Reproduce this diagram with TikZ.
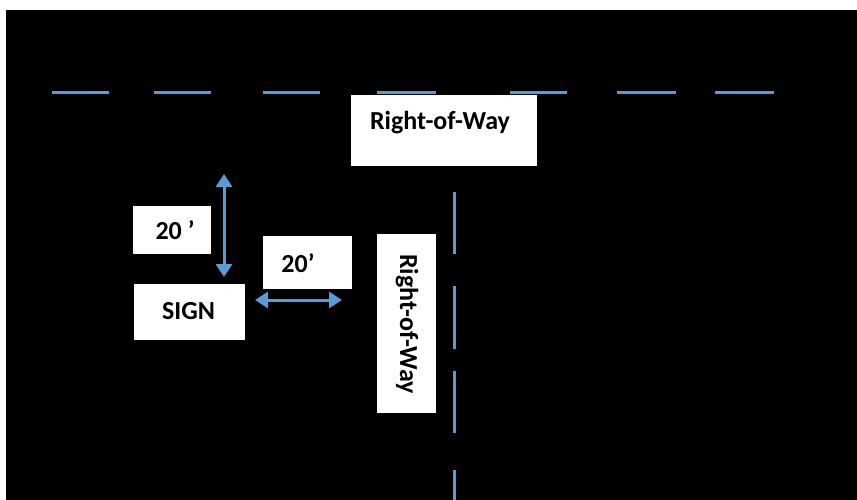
\documentclass[tikz,border=0pt]{standalone}
\usepackage{fontspec}
\setmainfont{Carlito}
\usetikzlibrary{arrows.meta}
\definecolor{rowblue}{HTML}{5B9BD5}
\begin{document}
\begin{tikzpicture}[x=1pt,y=-1pt,
  box/.style={fill=white,draw=none,inner sep=0pt},
  lbl/.style={inner sep=0pt,text=black,font=\fontsize{26}{31}\selectfont\bfseries},
  dashline/.style={rowblue,line width=3pt},
  dimarrow/.style={rowblue,line width=3pt,{Triangle[width=16pt,length=13pt]}-{Triangle[width=16pt,length=13pt]}}]
\useasboundingbox (0,0) rectangle (857,500);
\fill[black] (6,10) rectangle (857,500);
% horizontal dashed right-of-way line
\foreach \a/\b in {52/109,154/211,263/320,377/436,510/567,617/676,715/774}
  \draw[dashline] (\a,93) -- (\b,93);
% vertical dashed right-of-way line
\foreach \a/\b in {192/254,286/349,371/433,470/505}
  \draw[dashline] (454,\a) -- (454,\b);
% boxes
\node[box,minimum width=186pt,minimum height=71pt] (rowtop) at (444,130.5) {};
\node[lbl] (rowtoptext) at (440,123) {Right-of-Way};
\node[box,minimum width=59pt,minimum height=179pt] (rowside) at (406.5,323.5) {};
\node[lbl,rotate=-90] (rowsidetext) at (407,324) {Right-of-Way};
\node[box,minimum width=78pt,minimum height=48pt] (dimv) at (172,230) {};
\node[lbl] (dimvtext) at (175,230) {20 ’};
\node[box,minimum width=89pt,minimum height=53pt] (dimh) at (307.5,262.5) {};
\node[lbl] (dimhtext) at (298,263) {20’};
\node[box,minimum width=111pt,minimum height=56pt] (sign) at (189.5,312) {};
\node[lbl] (signtext) at (188.5,311) {SIGN};
% dimension arrows
\coordinate (vtop) at (224,174);
\coordinate (vbot) at (224,277);
\coordinate (hl) at (255,300);
\coordinate (hr) at (342,300);
\draw[dimarrow] (vtop) -- (vbot);
\draw[dimarrow] (hl) -- (hr);
\end{tikzpicture}
\end{document}
